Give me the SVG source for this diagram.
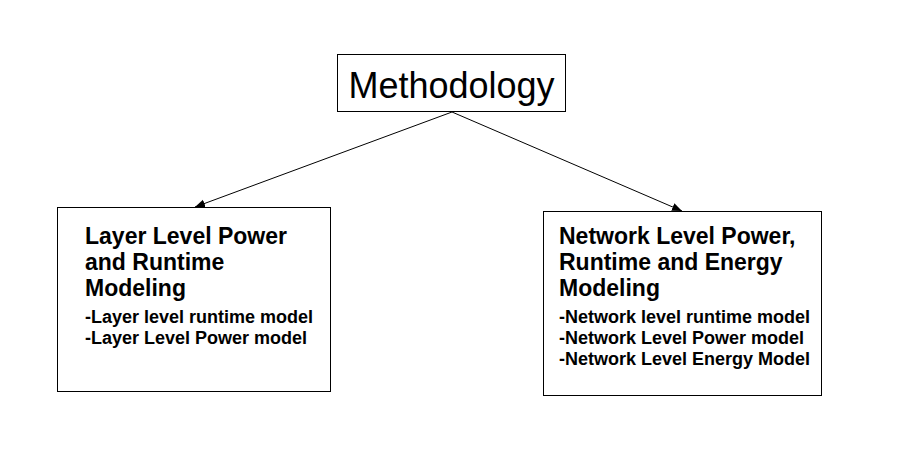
<svg xmlns="http://www.w3.org/2000/svg" width="919" height="469" viewBox="0 0 919 469">
<style>
.box{fill:#fff;stroke:#000;stroke-width:1}
.t{font-family:"Liberation Sans",Arial,sans-serif;fill:#000}
.h{font-weight:bold;font-size:23px}
.s{font-weight:bold;font-size:18px}
.c{stroke:#000;stroke-width:1;fill:none}
</style>
<defs>
<marker id="ah" viewBox="0 0 10 10" refX="10" refY="5" markerWidth="10" markerHeight="10" markerUnits="userSpaceOnUse" orient="auto">
<path d="M0,1 L10,5 L0,9 z" fill="#000"/>
</marker>
</defs>
<rect width="919" height="469" fill="#fff"/>
<g id="connectors">
<line class="c" x1="452" y1="112" x2="195" y2="207" marker-end="url(#ah)"/>
<line class="c" x1="452" y1="112" x2="682" y2="211" marker-end="url(#ah)"/>
</g>
<g id="methodology">
<rect class="box" x="337.5" y="54.5" width="228" height="57"/>
<text class="t" x="451.5" y="98" font-size="36" text-anchor="middle">Methodology</text>
</g>
<g id="layer-level">
<rect class="box" x="57.5" y="207.5" width="273" height="184"/>
<text class="t h" x="85" y="244">Layer Level Power</text>
<text class="t h" x="85" y="270">and Runtime</text>
<text class="t h" x="85" y="296">Modeling</text>
<text class="t s" x="85" y="323">-Layer level runtime model</text>
<text class="t s" x="85" y="344">-Layer Level Power model</text>
</g>
<g id="network-level">
<rect class="box" x="543.5" y="211.5" width="278" height="184"/>
<text class="t h" x="559" y="244">Network Level Power,</text>
<text class="t h" x="559" y="270">Runtime and Energy</text>
<text class="t h" x="559" y="296">Modeling</text>
<text class="t s" x="559" y="323">-Network level runtime model</text>
<text class="t s" x="559" y="344">-Network Level Power model</text>
<text class="t s" x="559" y="365">-Network Level Energy Model</text>
</g>
</svg>
